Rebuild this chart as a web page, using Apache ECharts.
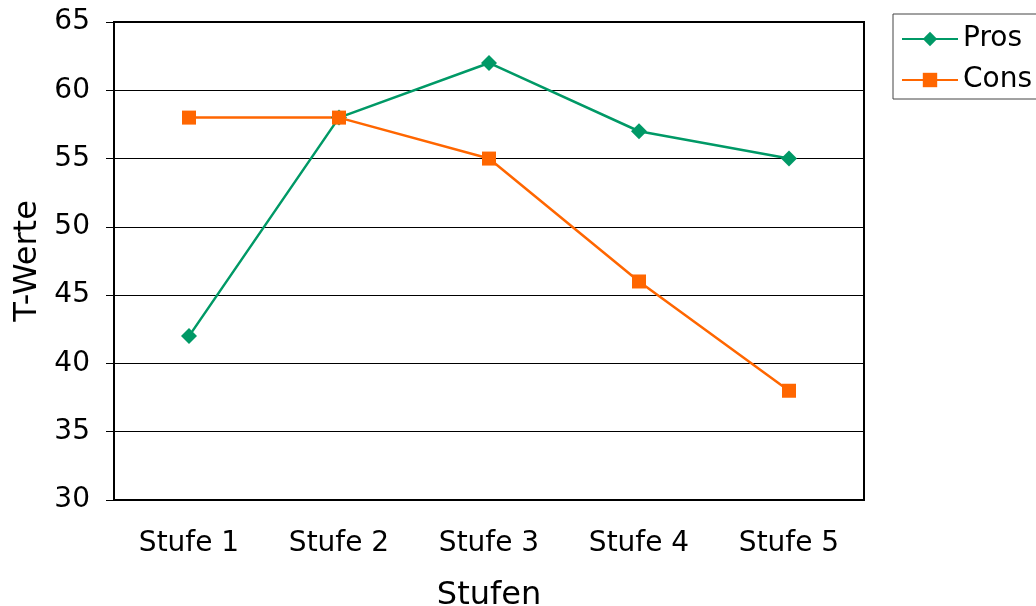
<!DOCTYPE html>
<html lang="de">
<head>
  <meta charset="UTF-8">
  <title>T-Werte nach Stufen</title>
  <script src="https://cdn.jsdelivr.net/npm/echarts@6/dist/echarts.min.js"></script>
  <style>
    body { margin: 0; background: #fff; }
    #main { width: 1036px; height: 606px; }
  </style>
</head>
<body>
  <div id="main"></div>
<script>
  // Daten
  var stufen = ['Stufe 1', 'Stufe 2', 'Stufe 3', 'Stufe 4', 'Stufe 5'];
  var pros = [42, 58, 62, 57, 55];
  var cons = [58, 58, 55, 46, 38];

  var font = 'DejaVu Sans, Verdana, sans-serif';
  var myChart = echarts.init(document.getElementById('main'));

  var option = {
    animation: false,
    textStyle: { fontFamily: font, color: '#000' },
    grid: {
      left: 114, right: 172, top: 22, bottom: 106,
      outerBoundsMode: 'none',
      show: true, borderColor: '#000', borderWidth: 2
    },
    legend: {
      orient: 'vertical',
      left: 893, top: 14,
      padding: [11, 12, 5, 8],
      itemGap: 13,
      itemWidth: 56, itemHeight: 18,
      borderColor: '#444', borderWidth: 1,
      textStyle: { fontFamily: font, fontSize: 28, color: '#000' },
      data: ['Pros', 'Cons']
    },
    xAxis: {
      type: 'category',
      data: stufen,
      name: 'Stufen',
      nameLocation: 'middle',
      nameGap: 80,
      nameTextStyle: { fontSize: 32, color: '#000' },
      axisLine: { lineStyle: { color: '#000', width: 2 } },
      axisTick: { length: 8, lineStyle: { color: '#000' } },
      axisLabel: { fontSize: 28, color: '#000', margin: 30 },
      splitLine: { show: false }
    },
    yAxis: {
      type: 'value',
      min: 30, max: 65, interval: 5,
      name: 'T-Werte',
      nameLocation: 'middle',
      nameGap: 70,
      nameTextStyle: { fontSize: 32, color: '#000' },
      axisLine: { show: true, lineStyle: { color: '#000', width: 2 } },
      axisTick: { show: true, length: 8, lineStyle: { color: '#000' } },
      axisLabel: { fontSize: 28, color: '#000', margin: 24 },
      splitLine: { lineStyle: { color: '#000', width: 1 } }
    },
    series: [
      {
        name: 'Pros',
        type: 'line',
        data: pros,
        symbol: 'diamond',
        symbolSize: 16,
        lineStyle: { color: '#009966', width: 2.5 },
        itemStyle: { color: '#009966' }
      },
      {
        name: 'Cons',
        type: 'line',
        data: cons,
        symbol: 'rect',
        symbolSize: 14,
        lineStyle: { color: '#ff6600', width: 2.5 },
        itemStyle: { color: '#ff6600' }
      }
    ]
  };

  myChart.setOption(option);
</script>
</body>
</html>
